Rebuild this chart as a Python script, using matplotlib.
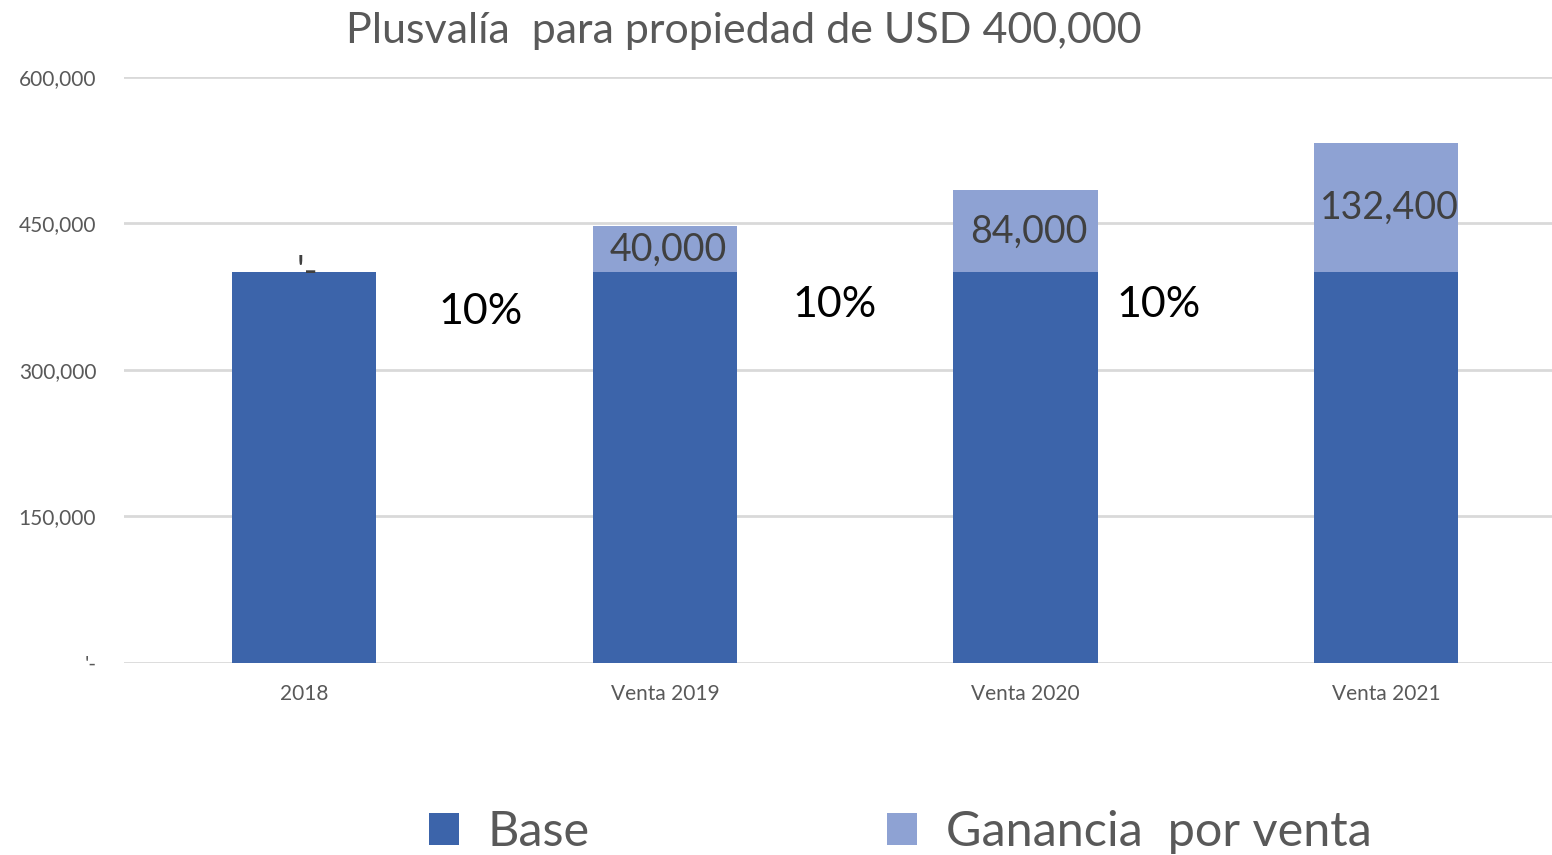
import matplotlib
matplotlib.use('Agg')
import matplotlib.pyplot as plt
from matplotlib.patches import Patch
from matplotlib.ticker import FuncFormatter
import numpy as np

plt.rcParams['font.family'] = ['Lato', 'DejaVu Sans']

# data
categories = ['2018', 'Venta 2019', 'Venta 2020', 'Venta 2021']
base = [400000, 400000, 400000, 400000]
gain = [0, 47000, 84000, 132400]
gain_labels = ["'-", '40,000', '84,000', '132,400']
rate_labels = ['10%', '10%', '10%']
rate_x = [0.49, 1.47, 2.37]
rate_y = [359000, 367000, 367000]

DARK = '#3C64AA'
LIGHT = '#8EA2D3'
GREY = '#595959'

fig = plt.figure(figsize=(15.52, 8.55), dpi=100)
ax = fig.add_axes([0.0799, 0.2246, 0.9201, 0.6854])

x = np.arange(len(categories))
ax.bar(x, base, width=0.4, color=DARK, zorder=3)
ax.bar(x, gain, width=0.4, bottom=base, color=LIGHT, zorder=3)

for xi, b, g, lab in zip(x, base, gain, gain_labels):
    ax.text(xi + 0.01, b + g / 2, lab, ha='center', va='center', fontsize=27,
            color='#404040', zorder=4)

for rx, ry, lab in zip(rate_x, rate_y, rate_labels):
    ax.text(rx, ry, lab, ha='center', va='center', fontsize=31, color='black')

ax.set_xlim(-0.5, 3.46)
ax.set_ylim(0, 600000)
ax.set_yticks([0, 150000, 300000, 450000, 600000])
ax.yaxis.set_major_formatter(FuncFormatter(lambda v, p: "'-" if v == 0 else f'{v:,.0f}'))
ax.set_xticks(x)
ax.set_xticklabels(categories)
ax.tick_params(axis='both', length=0, colors=GREY)
ax.tick_params(axis='y', labelsize=15, pad=20)
ax.tick_params(axis='x', labelsize=15, pad=15)
for s in ax.spines.values():
    s.set_visible(False)
ax.grid(axis='y', color='#D9D9D9', linewidth=2, zorder=0)
ax.set_axisbelow(True)

fig.text(0.479, 0.964, 'Plusvalía  para propiedad de USD 400,000', ha='center',
         va='center', fontsize=31, color=GREY)

handles = [Patch(facecolor=DARK, label='Base'),
           Patch(facecolor=LIGHT, label='Ganancia  por venta')]
leg = fig.legend(handles=handles, loc='center', bbox_to_anchor=(0.58, 0.027),
                 ncol=2, frameon=False, fontsize=35, handlelength=0.62,
                 handleheight=0.62, handletextpad=0.6, columnspacing=6.1)
for t in leg.get_texts():
    t.set_color(GREY)

fig.savefig('out.png', dpi=100)
